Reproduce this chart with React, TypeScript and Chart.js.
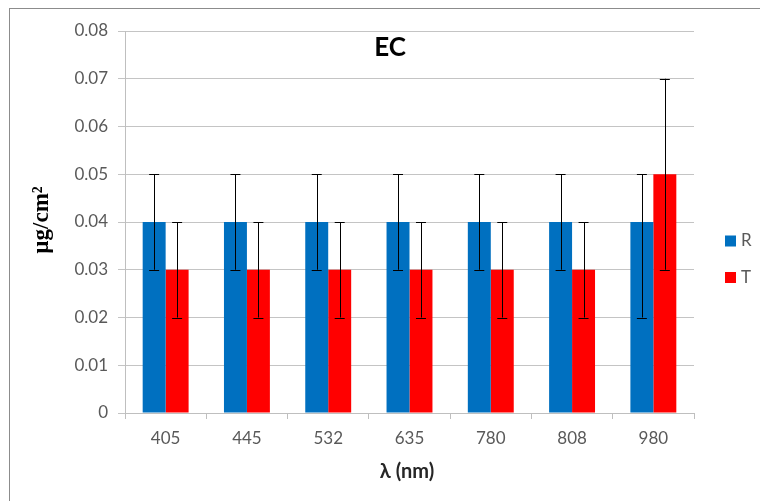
import React, { useEffect, useRef } from "react";
import { Chart, registerables } from "chart.js";

Chart.register(...registerables);

const categories = ["405", "445", "532", "635", "780", "808", "980"];
const seriesNames = ["R", "T"];
const rValues = [0.04, 0.04, 0.04, 0.04, 0.04, 0.04, 0.04];
const tValues = [0.03, 0.03, 0.03, 0.03, 0.03, 0.03, 0.05];
const rLow = [0.03, 0.03, 0.03, 0.03, 0.03, 0.03, 0.02];
const rHigh = [0.05, 0.05, 0.05, 0.05, 0.05, 0.05, 0.05];
const tLow = [0.02, 0.02, 0.02, 0.02, 0.02, 0.02, 0.03];
const tHigh = [0.04, 0.04, 0.04, 0.04, 0.04, 0.04, 0.07];
const yTicks = [0, 0.01, 0.02, 0.03, 0.04, 0.05, 0.06, 0.07, 0.08];
const chartTitle = "EC";
const xTitle = "λ (nm)";
const yTitle = "µg/cm²";

const FONT = "Lato, 'Open Sans', sans-serif";
const TEXT = "#595959";

const errorBarPlugin = {
  id: "errorBars",
  afterDatasetsDraw(chart: any) {
    const ctx = chart.ctx;
    const y = chart.scales.y;
    chart.data.datasets.forEach((ds: any, di: number) => {
      const meta = chart.getDatasetMeta(di);
      meta.data.forEach((bar: any, i: number) => {
        const x = bar.x;
        const yl = y.getPixelForValue(ds.errLow[i]);
        const yh = y.getPixelForValue(ds.errHigh[i]);
        ctx.save();
        ctx.strokeStyle = "#000";
        ctx.lineWidth = 1;
        ctx.beginPath();
        ctx.moveTo(Math.round(x) + 0.5, yh);
        ctx.lineTo(Math.round(x) + 0.5, yl);
        ctx.moveTo(x - 5, Math.round(yh) + 0.5);
        ctx.lineTo(x + 5, Math.round(yh) + 0.5);
        ctx.moveTo(x - 5, Math.round(yl) + 0.5);
        ctx.lineTo(x + 5, Math.round(yl) + 0.5);
        ctx.stroke();
        ctx.restore();
      });
    });
  },
};

const decorPlugin = {
  id: "decor",
  beforeDraw(chart: any) {
    const ctx = chart.ctx;
    ctx.save();
    ctx.fillStyle = "#fff";
    ctx.fillRect(0, 0, chart.width, chart.height);
    ctx.strokeStyle = "#8c8c8c";
    ctx.lineWidth = 1;
    ctx.strokeRect(9.5, 8.5, chart.width + 10, chart.height + 10);
    ctx.restore();
  },
  afterDraw(chart: any) {
    const ctx = chart.ctx;
    const a = chart.chartArea;
    ctx.save();
    // title
    ctx.fillStyle = "#000";
    ctx.font = `bold 26px ${FONT}`;
    ctx.textAlign = "center";
    ctx.textBaseline = "middle";
    ctx.fillText(chartTitle, 390, 48);
    // x title
    ctx.font = `bold 20px ${FONT}`;
    ctx.fillStyle = "#262626";
    ctx.fillText(xTitle, 407, 472);
    // y title
    ctx.save();
    ctx.translate(42, 220);
    ctx.rotate(-Math.PI / 2);
    ctx.font = `bold 23px 'Liberation Serif', 'DejaVu Serif', serif`;
    ctx.fillStyle = "#000";
    ctx.fillText(yTitle, 0, 0);
    ctx.restore();
    // legend
    chart.data.datasets.forEach((ds: any, i: number) => {
      const cy = 241 + i * 36.5;
      ctx.fillStyle = ds.backgroundColor;
      ctx.fillRect(725, cy - 5.5, 11, 11);
      ctx.fillStyle = TEXT;
      ctx.font = `17px ${FONT}`;
      ctx.textAlign = "left";
      ctx.textBaseline = "middle";
      ctx.fillText(ds.label, 741, cy);
    });
    ctx.restore();
  },
};

export default function App() {
  const ref = useRef<HTMLCanvasElement | null>(null);
  useEffect(() => {
    if (!ref.current) return;
    const chart = new Chart(ref.current, {
      type: "bar",
      data: {
        labels: categories,
        datasets: [
          {
            label: seriesNames[0],
            data: rValues,
            backgroundColor: "#0070c0",
            errLow: rLow,
            errHigh: rHigh,
          } as any,
          {
            label: seriesNames[1],
            data: tValues,
            backgroundColor: "#ff0000",
            errLow: tLow,
            errHigh: tHigh,
          } as any,
        ],
      },
      options: {
        animation: false,
        responsive: false,
        maintainAspectRatio: false,
        layout: { padding: { left: 0, top: 31, right: 66, bottom: 0 } },
        datasets: { bar: { categoryPercentage: 0.565, barPercentage: 1 } },
        plugins: { legend: { display: false }, tooltip: { enabled: false }, title: { display: false } },
        scales: {
          x: {
            offset: true,
            grid: { offset: true, drawOnChartArea: false, drawTicks: true, tickLength: 6, color: "#bfbfbf" },
            border: { display: true, color: "#bfbfbf" },
            ticks: { color: TEXT, font: { family: FONT, size: 17 }, padding: 9 },
            afterFit(scale: any) {
              scale.height = 88;
            },
          },
          y: {
            min: 0,
            max: 0.08,
            afterBuildTicks(scale: any) {
              scale.ticks = yTicks.map((v) => ({ value: v }));
            },
            grid: { color: "#c4c4c4", tickLength: 7 },
            border: { display: true, color: "#bfbfbf" },
            ticks: {
              color: TEXT,
              font: { family: FONT, size: 17 },
              padding: 10,
              callback: (v: any) => (Number(v) === 0 ? "0" : Number(v).toFixed(2)),
            },
            afterFit(scale: any) {
              scale.width = 125;
            },
          },
        },
      } as any,
      plugins: [decorPlugin, errorBarPlugin],
    });
    return () => chart.destroy();
  }, []);
  return (
    <div style={{ position: "fixed", left: 0, top: 0, width: 760, height: 501 }}>
      <canvas ref={ref} width={760} height={501} style={{ width: 760, height: 501 }} />
    </div>
  );
}
